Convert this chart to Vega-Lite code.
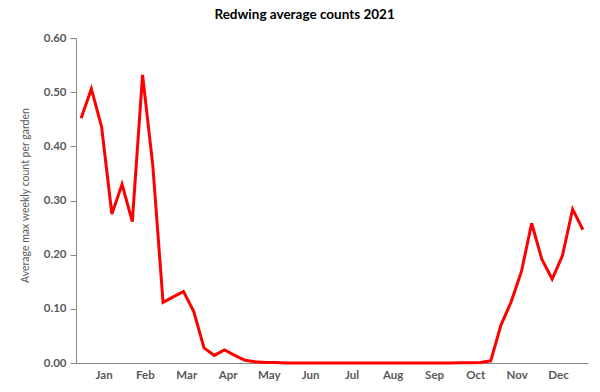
{
  "$schema": "https://vega.github.io/schema/vega-lite/v6.json",
  "autosize": "none",
  "width": 512,
  "height": 325,
  "padding": {"left": 76, "top": 38, "right": 12, "bottom": 29},
  "background": "white",
  "title": {
    "text": "Redwing average counts 2021",
    "font": "Lato",
    "fontSize": 13.5,
    "fontWeight": "bold",
    "color": "#000000",
    "anchor": "middle",
    "frame": "bounds",
    "offset": 11
  },
  "config": {"view": {"stroke": null}},
  "data": {
    "values": [
      {"week": 1, "count": 0.452}, {"week": 2, "count": 0.506}, {"week": 3, "count": 0.436},
      {"week": 4, "count": 0.275}, {"week": 5, "count": 0.330}, {"week": 6, "count": 0.261},
      {"week": 7, "count": 0.532}, {"week": 8, "count": 0.365}, {"week": 9, "count": 0.112},
      {"week": 10, "count": 0.122}, {"week": 11, "count": 0.132}, {"week": 12, "count": 0.095},
      {"week": 13, "count": 0.028}, {"week": 14, "count": 0.014}, {"week": 15, "count": 0.024},
      {"week": 16, "count": 0.014}, {"week": 17, "count": 0.005}, {"week": 18, "count": 0.0025},
      {"week": 19, "count": 0.001}, {"week": 20, "count": 0.001}, {"week": 21, "count": 0.0},
      {"week": 22, "count": 0.0}, {"week": 23, "count": 0.0}, {"week": 24, "count": 0.0},
      {"week": 25, "count": 0.0}, {"week": 26, "count": 0.0}, {"week": 27, "count": 0.0},
      {"week": 28, "count": 0.0}, {"week": 29, "count": 0.0}, {"week": 30, "count": 0.0},
      {"week": 31, "count": 0.0}, {"week": 32, "count": 0.0}, {"week": 33, "count": 0.0},
      {"week": 34, "count": 0.0}, {"week": 35, "count": 0.0}, {"week": 36, "count": 0.0},
      {"week": 37, "count": 0.0}, {"week": 38, "count": 0.0005}, {"week": 39, "count": 0.0005},
      {"week": 40, "count": 0.001}, {"week": 41, "count": 0.004}, {"week": 42, "count": 0.070},
      {"week": 43, "count": 0.113}, {"week": 44, "count": 0.169}, {"week": 45, "count": 0.258},
      {"week": 46, "count": 0.191}, {"week": 47, "count": 0.155}, {"week": 48, "count": 0.198},
      {"week": 49, "count": 0.284}, {"week": 50, "count": 0.246}
    ]
  },
  "mark": {"type": "line", "color": "#FF0000", "strokeWidth": 3, "strokeJoin": "miter"},
  "encoding": {
    "x": {
      "field": "week",
      "type": "quantitative",
      "scale": {"domain": [0.5, 50.5], "nice": false, "zero": false},
      "axis": {
        "title": null,
        "values": [3.2, 7.23, 11.27, 15.3, 19.33, 23.37, 27.4, 31.43, 35.47, 39.5, 43.53, 47.57],
        "labelExpr": "['Jan','Feb','Mar','Apr','May','Jun','Jul','Aug','Sep','Oct','Nov','Dec'][round((datum.value - 3.2) / 4.033)]",
        "ticks": false,
        "grid": false,
        "domainColor": "#868686",
        "domainWidth": 1,
        "labelFont": "Lato",
        "labelFontSize": 11.5,
        "labelFontWeight": "bold",
        "labelColor": "#595959",
        "labelPadding": 6,
        "labelFlush": false,
        "labelOverlap": false
      }
    },
    "y": {
      "field": "count",
      "type": "quantitative",
      "scale": {"domain": [0, 0.6], "nice": false},
      "axis": {
        "title": "Average max weekly count per garden",
        "titleFont": "Lato",
        "titleFontSize": 10.5,
        "titleFontWeight": "normal",
        "titleColor": "#595959",
        "titlePadding": 13,
        "titleY": 157,
        "values": [0, 0.1, 0.2, 0.3, 0.4, 0.5, 0.6],
        "format": ".2f",
        "grid": false,
        "ticks": true,
        "tickSize": 6,
        "tickColor": "#868686",
        "domainColor": "#868686",
        "labelFont": "Lato",
        "labelFontSize": 11.5,
        "labelFontWeight": "bold",
        "labelColor": "#595959",
        "labelPadding": 4
      }
    }
  }
}
